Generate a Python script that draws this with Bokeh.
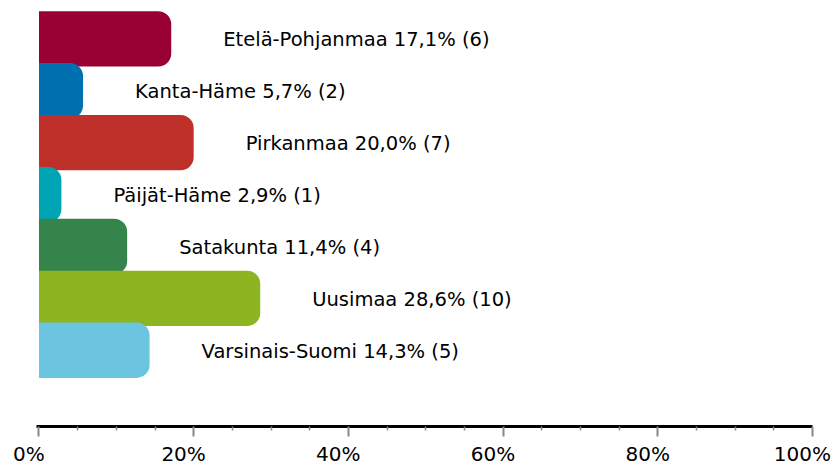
from bokeh.plotting import figure
from bokeh.models import Range1d, LinearAxis, FixedTicker, ColumnDataSource
from bokeh.embed import file_html
from bokeh.resources import INLINE
from bokeh.core.properties import value

regions = ["Etelä-Pohjanmaa", "Kanta-Häme", "Pirkanmaa", "Päijät-Häme",
           "Satakunta", "Uusimaa", "Varsinais-Suomi"]
percents = [17.1, 5.7, 20.0, 2.9, 11.4, 28.6, 14.3]
counts = [6, 2, 7, 1, 4, 10, 5]
colors = ["#990033", "#0070B0", "#C0302A", "#00A5B5", "#34844C", "#8CB521", "#6BC5E0"]
tick_values = [0, 20, 40, 60, 80, 100]
tick_labels = ["0%", "20%", "40%", "60%", "80%", "100%"]

n = len(regions)
labels = [f"{r} {p:.1f}%".replace(".", ",") + f" ({c})" for r, p, c in zip(regions, percents, counts)]
ypos = [n - 1 - i for i in range(n)]
src = ColumnDataSource(dict(y=ypos, pct=percents, color=colors, label=labels))

FONT = "DejaVu Sans"
x_start, x_end = -2.0, 100.0
shift = 1.3

p = figure(width=834, height=468, output_backend="svg", toolbar_location=None,
           x_range=Range1d(x_start, x_end), y_range=Range1d(-1.47, 6.74),
           min_border_left=23, min_border_right=22, min_border_top=0, min_border_bottom=41)
p.outline_line_color = None
p.grid.visible = False
p.yaxis.visible = False
p.background_fill_color = "white"
p.border_fill_color = "white"

p.hbar(y="y", left=0, right="pct", height=1.067, fill_color="color", line_color=None,
       border_radius=(0, 13, 13, 0), source=src)
p.text(x="pct", y="y", text="label", source=src, x_offset=52, y_offset=1,
       text_baseline="middle", text_align="left",
       text_font=value(FONT), text_font_size="19.5px", text_color="#000000")

minor = [v for v in range(0, 101, 5) if v not in tick_values]
ax = p.xaxis[0]
ax.ticker = FixedTicker(ticks=tick_values, minor_ticks=minor)
ax.bounds = (-0.3, 100)
ax.axis_line_color = "#000000"
ax.axis_line_width = 3
ax.major_tick_line_color = "#888888"
ax.major_tick_line_width = 2
ax.major_tick_in = 0
ax.major_tick_out = 10
ax.minor_tick_line_color = "#888888"
ax.minor_tick_line_width = 1.5
ax.minor_tick_in = 0
ax.minor_tick_out = 4
ax.major_label_text_color = None
ax.major_label_standoff = 0

p.extra_x_ranges = {"lbl": Range1d(x_start + shift, x_end + shift)}
lax = LinearAxis(x_range_name="lbl", ticker=FixedTicker(ticks=tick_values, minor_ticks=[]),
                 major_label_overrides={v: t for v, t in zip(tick_values, tick_labels)},
                 axis_line_color=None, major_tick_line_color=None, minor_tick_line_color=None,
                 major_tick_in=0, major_tick_out=0, minor_tick_in=0, minor_tick_out=0,
                 major_label_standoff=5,
                 major_label_text_font=FONT, major_label_text_font_size="20px",
                 major_label_text_color="#000000")
p.add_layout(lax, "below")

open("out.html", "w").write(file_html(p, INLINE))
